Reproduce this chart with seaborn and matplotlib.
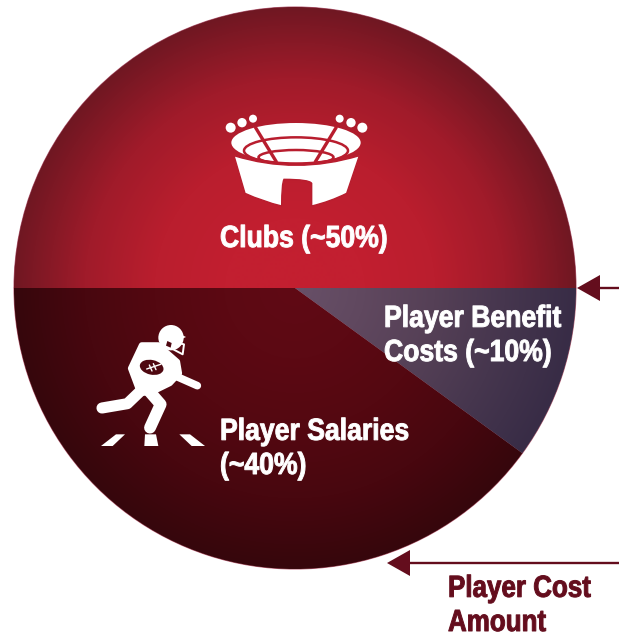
import numpy as np
import matplotlib
matplotlib.use('Agg')
import matplotlib.pyplot as plt
from matplotlib.patches import Circle, Ellipse, Polygon, PathPatch
from matplotlib.patheffects import AbstractPathEffect
from matplotlib.path import Path
from matplotlib.transforms import Affine2D
import seaborn as sns

# shares of each revenue slice
CATEGORIES = ['Clubs', 'Player Salaries', 'Player Benefit Costs']
SHARES = [50, 40, 10]

RAMPS = [
    ['#c41f30', '#c21f30', '#ba1e2e', '#a01b2a', '#701722'],
    ['#600a15', '#5c0913', '#540811', '#48070f', '#36060c'],
    ['#685068', '#60485f', '#554056', '#46364e', '#382c46'],
]
LABELS = ['Clubs (~50%)', 'Player Salaries\n(~40%)', 'Player Benefit\nCosts (~10%)']
MAROON = '#640d1d'

W, H = 619, 638
CX, CY, R = 295, 288, 281

sns.set_theme(style='white')
plt.rcParams['font.family'] = ['Liberation Sans', 'DejaVu Sans']


# no condensed face installed, so squeeze the glyphs sideways around the text's left edge
class Condensed(AbstractPathEffect):
    def __init__(self, x0, factor=0.87):
        super().__init__()
        self.x0 = x0
        self.factor = factor

    def draw_path(self, renderer, gc, tpath, affine, rgbFace=None):
        squeeze = Affine2D().translate(-self.x0, 0).scale(self.factor, 1).translate(self.x0, 0)
        gc.set_foreground(rgbFace)
        gc.set_linewidth(0.7)
        renderer.draw_path(gc, tpath, affine + squeeze, rgbFace)


def flip(y):
    return H - y


def stadium(x, y):
    return 210 + x / 3, flip(100 + y / 3)


def player(x, y):
    return 90 + x / 3, flip(315 + y / 3)


fig = plt.figure(figsize=(W / 100, H / 100), dpi=100)
ax = fig.add_axes([0, 0, 1, 1])
wedges, _ = ax.pie(SHARES, startangle=0, counterclock=True, radius=R, center=(CX, flip(CY)),
                   wedgeprops=dict(linewidth=0.8, edgecolor='#b9647a'))
ax.set_aspect('equal')
ax.axis('off')

# radial gradient clipped to each slice
xx, yy = np.meshgrid(np.arange(CX - R, CX + R + 1), np.arange(flip(CY) - R, flip(CY) + R + 1))
dist = np.hypot(xx - CX, yy - flip(CY)) / R
for wedge, ramp in zip(wedges, RAMPS):
    cmap = sns.blend_palette(ramp, as_cmap=True)
    im = ax.imshow(dist, cmap=cmap, vmin=0, vmax=1, origin='lower', aspect='equal', zorder=2,
                   extent=(CX - R, CX + R, flip(CY) - R, flip(CY) + R))
    im.set_clip_path(wedge)
ax.set_xlim(0, W)
ax.set_ylim(0, H)

# stadium icon
RED = '#b81d2e'
for x, y, r in [(62, 83, 15), (96, 68, 14), (129, 56, 12), (389, 56, 12), (423, 68, 14), (457, 83, 15)]:
    ax.add_patch(Circle(stadium(x, y), r / 3, color='white', zorder=4, lw=0))
ax.add_patch(Ellipse(stadium(258, 128), 388 / 3, 118 / 3, color='white', zorder=4, lw=0))
ax.add_patch(Ellipse(stadium(258, 152), 312 / 3, 80 / 3, fc='none', ec=RED, lw=1.8, zorder=5))
ax.add_patch(Ellipse(stadium(258, 172), 225 / 3, 44 / 3, fc='none', ec=RED, lw=1.8, zorder=5))
for a, b in [((135, 80), (200, 187)), ((380, 80), (315, 187))]:
    ax.plot(*zip(stadium(*a), stadium(*b)), color=RED, lw=2.4, zorder=5, solid_capstyle='butt')

body = [(72, 167), (258, 225), (448, 167), (410, 280), (360, 305), (305, 318), (305, 250), (298, 238),
        (222, 238), (215, 250), (215, 318), (160, 305), (105, 280), (72, 167)]
codes = [Path.MOVETO, Path.CURVE3, Path.CURVE3, Path.LINETO, Path.CURVE3, Path.CURVE3, Path.LINETO,
         Path.CURVE3, Path.LINETO, Path.CURVE3, Path.LINETO, Path.CURVE3, Path.CURVE3, Path.CLOSEPOLY]
ax.add_patch(PathPatch(Path([stadium(*p) for p in body], codes), fc='white', ec=RED, lw=1.0, zorder=6))

# player icon
DARK = '#4f0811'
ax.add_patch(Polygon([player(*p) for p in [(155, 90), (205, 90), (262, 140), (268, 175), (240, 205), (185, 232),
                                           (150, 235), (122, 160)]],
                     color='white', lw=4, joinstyle='round', zorder=4))
ax.add_patch(Circle(player(243, 68), 38 / 3, color='white', zorder=4, lw=0))
ax.add_patch(Polygon([player(*p) for p in [(245, 45), (288, 66), (262, 78)]], color='white', zorder=4, lw=0))
ax.plot(*zip(*[player(*p) for p in [(244, 100), (278, 118), (282, 88), (248, 80)]]), color='white', lw=1.4, zorder=4)
ax.add_patch(Polygon([player(*p) for p in [(232, 78), (245, 84), (242, 98), (228, 92)]], color=DARK, zorder=5, lw=0))
for pts, lw in [([(245, 178), (322, 212)], 5.5),
                ([(158, 222), (112, 266), (36, 279)], 8.0),
                ([(172, 222), (212, 268), (180, 338)], 8.5)]:
    ax.plot(*zip(*[player(*p) for p in pts]), color='white', lw=lw, zorder=4,
            solid_capstyle='round', solid_joinstyle='round')
ax.add_patch(Ellipse(player(185, 157), 72 / 3, 44 / 3, angle=-12, color=DARK, zorder=5, lw=0))
for a, b in [((170, 162), (212, 148)), ((178, 150), (186, 168)), ((190, 146), (198, 164))]:
    ax.plot(*zip(player(*a), player(*b)), color='white', lw=1.0, zorder=6)
for pts in [[(33, 393), (78, 358), (105, 358), (68, 393)],
            [(165, 358), (198, 358), (205, 393), (163, 393)],
            [(268, 358), (300, 358), (345, 393), (305, 393)]]:
    ax.add_patch(Polygon([player(*p) for p in pts], color='white', zorder=4, lw=0))

# slice labels
for label, (x, y) in zip(LABELS, [(220, 247), (220, 474), (384, 361)]):
    ax.text(x, flip(y), label, color='white', fontsize=22, fontweight='bold', ha='left', va='baseline',
            linespacing=1.18, zorder=7, path_effects=[Condensed(x)])
ax.text(448, flip(631), 'Player Cost\nAmount', color=MAROON, fontsize=22, fontweight='bold', ha='left',
        va='baseline', linespacing=1.18, zorder=7, path_effects=[Condensed(448, 0.85)])

# arrows
for tip, y in [(577, 288), (387, 563)]:
    ax.plot([tip + 20, W], [flip(y), flip(y)], color=MAROON, lw=1.7, zorder=3)
    ax.add_patch(Polygon([(tip, flip(y)), (tip + 23, flip(y) + 13), (tip + 23, flip(y) - 13)],
                         color=MAROON, zorder=3, lw=0))

fig.savefig('out.png', dpi=100)
